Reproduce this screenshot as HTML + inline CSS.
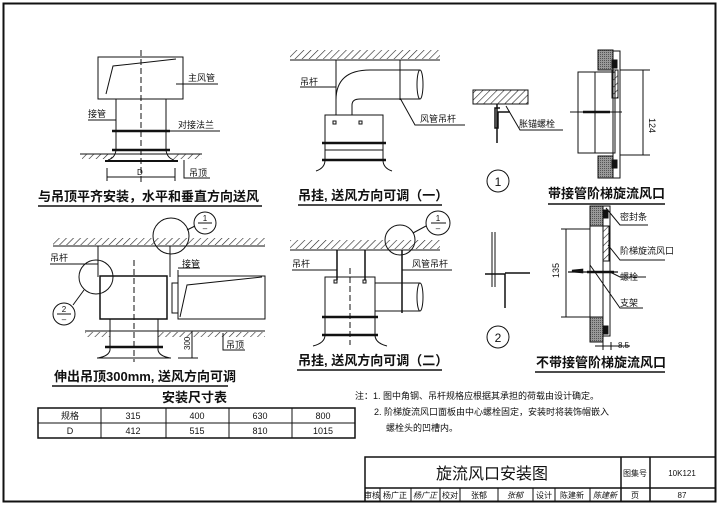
<!DOCTYPE html>
<html><head><meta charset="utf-8"><style>
html,body{margin:0;padding:0;background:#fff}
svg{display:block}
text{font-family:"Liberation Sans","Noto Sans CJK SC",sans-serif;fill:#111}
</style></head><body>
<svg width="720" height="506" viewBox="0 0 720 506" xmlns="http://www.w3.org/2000/svg">
<defs>
<pattern id="h" width="5" height="5" patternUnits="userSpaceOnUse" patternTransform="rotate(45)">
<line x1="0" y1="0" x2="0" y2="5" stroke="#222" stroke-width="1.2"/></pattern>
<pattern id="g" width="2" height="2" patternUnits="userSpaceOnUse"><rect width="2" height="2" fill="#999"/><rect width="1" height="1" fill="#555"/></pattern>
</defs>
<rect x="3.5" y="3.5" width="712" height="498" fill="none" stroke="#111" stroke-width="2"/>
<g stroke="#111" fill="none" stroke-width="1">
<!-- Fig 1 -->
<rect x="98" y="57" width="85" height="42"/>
<path d="M106 94 L113 66 L176 59"/>
<line x1="141" y1="50" x2="141" y2="182" stroke-dasharray="6,3"/>
<path d="M116 99 V150 Q115 158 108 160 M166 99 V150 Q167 158 174 160"/>
<line x1="112" y1="131" x2="170" y2="131" stroke-width="2.5"/>
<line x1="112" y1="150" x2="170" y2="150" stroke-width="2.5"/>
<rect x="82" y="154" width="30" height="5" fill="url(#h)" stroke="none"/>
<rect x="172" y="154" width="30" height="5" fill="url(#h)" stroke="none"/>
<line x1="80" y1="154" x2="202" y2="154"/><line x1="105" y1="161" x2="178" y2="161" stroke-width="2"/>
<path d="M107 168 V181 M175 168 V181 M107 177 H175"/>
<path d="M176 84 H218 M88 120 H116 M166 131 H220 M184 160 V178 H210"/>
<line x1="38" y1="206" x2="262" y2="206" stroke-width="1.5"/>
<!-- Fig 2 -->
<rect x="290" y="50" width="150" height="9" fill="url(#h)" stroke="none"/><line x1="290" y1="60" x2="440" y2="60"/>
<path d="M336 60 V115 M400 60 V100 M300 87 H336"/>
<path d="M336 115 V100 Q336 70 370 70 H420 M352 115 V105 Q352 99 360 99 H420"/>
<ellipse cx="420" cy="84.5" rx="3" ry="14.5"/>
<rect x="325" y="115" width="58" height="35"/>
<rect x="333" y="121" width="3" height="3"/><rect x="359" y="121" width="3" height="3"/>
<line x1="322" y1="143" x2="386" y2="143" stroke-width="2.5"/><line x1="322" y1="160" x2="386" y2="160" stroke-width="2.5"/>
<path d="M325 150 V160 Q325 168 316 171 M383 150 V160 Q383 168 392 171"/>
<path d="M400 98 L415 125 H465"/>
<line x1="298" y1="205" x2="442" y2="205" stroke-width="1.5"/>
<!-- detail 1 -->
<rect x="473" y="90" width="55" height="14" fill="url(#h)"/>
<path d="M497 104 V143 M500 108 H495 V128 H498 V112 H510" stroke-width="1.5"/>
<path d="M506 106 L520 130 H563"/>
<circle cx="498" cy="181" r="11"/>
<!-- right top -->
<rect x="598" y="50" width="15" height="20" fill="url(#g)"/><rect x="598" y="156" width="15" height="22" fill="url(#g)"/>
<rect x="613" y="51" width="7" height="127"/>
<rect x="612" y="60" width="5" height="8" fill="#111"/><rect x="612" y="160" width="5" height="8" fill="#111"/>
<rect x="612" y="70" width="6" height="28" fill="url(#h)"/>
<rect x="578" y="72" width="37" height="81"/><line x1="595" y1="72" x2="595" y2="153"/>
<line x1="570" y1="112" x2="622" y2="112"/><path d="M583 112 H610" stroke-width="2.5"/>
<path d="M620 70 H650 M620 155 H650 M643 70 V155"/>
<line x1="548" y1="204" x2="665" y2="204" stroke-width="1.5"/>
<!-- Fig 3 -->
<rect x="53" y="238" width="212" height="7" fill="url(#h)" stroke="none"/><line x1="53" y1="246" x2="265" y2="246"/>
<circle cx="171" cy="236" r="18"/><circle cx="205" cy="223" r="11"/><line x1="187" y1="230" x2="195" y2="226"/><line x1="198" y1="223" x2="212" y2="223"/>
<path d="M98 246 V277 M170 246 V277 M50 264 H98"/>
<rect x="100" y="276" width="67" height="43" stroke-width="1.5"/>
<line x1="134" y1="260" x2="134" y2="362" stroke-dasharray="6,3"/>
<rect x="172" y="283" width="6" height="30"/>
<rect x="178" y="276" width="87" height="43"/><path d="M180 317 L187 285 L262 277"/>
<path d="M178 270 V276 M178 268 H200"/>
<circle cx="96" cy="277" r="17"/><circle cx="64" cy="314" r="11"/><line x1="84" y1="290" x2="73" y2="305"/><line x1="57" y1="314" x2="71" y2="314"/>
<path d="M110 319 V350 Q109 356 98 358 M158 319 V350 Q159 356 170 358"/>
<rect x="85" y="332" width="25" height="5" fill="url(#h)" stroke="none"/><rect x="158" y="332" width="107" height="5" fill="url(#h)" stroke="none"/>
<line x1="85" y1="331" x2="265" y2="331"/>
<line x1="105" y1="347" x2="163" y2="347" stroke-width="2.5"/><line x1="97" y1="358" x2="171" y2="358"/>
<path d="M178 331 H198 M178 358 H198 M192 331 V358 M223 333 V350 H245"/>
<line x1="52" y1="386" x2="228" y2="386" stroke-width="1.5"/>
<!-- Fig 4 -->
<rect x="290" y="240" width="150" height="9" fill="url(#h)" stroke="none"/><line x1="290" y1="250" x2="440" y2="250"/>
<circle cx="400" cy="240" r="15"/><circle cx="438" cy="223" r="12"/><line x1="413" y1="233" x2="426" y2="226"/><line x1="431" y1="223" x2="446" y2="223"/>
<path d="M337 250 V280 M365 250 V280 M402 250 V313" stroke-width="1.5"/>
<path d="M292 270 H337 M402 270 H452"/>
<rect x="325" y="277" width="50" height="58"/>
<rect x="334" y="280" width="3" height="3"/><rect x="363" y="280" width="3" height="3"/>
<line x1="350" y1="268" x2="350" y2="345" stroke-dasharray="6,3"/>
<path d="M375 283 H420 M375 311 H420"/><ellipse cx="420" cy="297" rx="3" ry="14"/>
<line x1="322" y1="317" x2="378" y2="317" stroke-width="2.5"/><line x1="322" y1="335" x2="378" y2="335" stroke-width="2.5"/>
<path d="M325 335 Q325 343 313 346 M375 335 Q375 343 387 346"/>
<line x1="297" y1="370" x2="442" y2="370" stroke-width="1.5"/>
<!-- detail 2 -->
<path d="M492 232 V287 M495 232 V287" /><path d="M485 274 H505 V308 M505 273 H530" stroke-width="1.5"/>
<circle cx="498" cy="337" r="11"/>
<!-- right bottom -->
<rect x="590" y="206" width="13" height="20" fill="url(#g)"/><rect x="590" y="317" width="13" height="25" fill="url(#g)"/>
<rect x="603" y="206" width="7" height="130"/>
<rect x="603" y="210" width="5" height="8" fill="#111"/><rect x="603" y="326" width="5" height="8" fill="#111"/>
<rect x="603" y="226" width="6" height="35" fill="url(#h)"/>
<path d="M590 226 V317"/>
<path d="M568 272 H618" stroke-width="1.2"/><path d="M582 272 L572 271 L582 270 Z M587 272 H614" stroke-width="2.5"/>
<path d="M561 229 H590 M561 317 H590 M566 229 V317"/>
<path d="M606 208 L620 225 H648 M608 245 L620 260 H665 M610 272 L620 277 H646 M590 265 L620 308 H643"/>
<path d="M603 342 V350 M611 342 V350 M595 346 H630"/>
<line x1="535" y1="372" x2="665" y2="372" stroke-width="1.5"/>
<!-- table -->
<rect x="38" y="408" width="317" height="30" stroke-width="1.5"/>
<path d="M38 423 H355 M101 408 V438 M166 408 V438 M229 408 V438 M292 408 V438"/>
<!-- title block -->
<path d="M365 502 V457 H715 M365 488 H715 M621 457 V502 M650 457 V502" stroke-width="1.5"/>
<path d="M380 488 V502 M411 488 V502 M440 488 V502 M460 488 V502 M498 488 V502 M533 488 V502 M555 488 V502 M590 488 V502"/>
</g>
<g font-size="9">
<text x="188" y="81">主风管</text><text x="88" y="117">接管</text><text x="178" y="128">对接法兰</text><text x="189" y="176">吊顶</text>
<text x="137" y="175" font-size="8">D</text>
<text x="300" y="85">吊杆</text><text x="420" y="122">风管吊杆</text>
<text x="519" y="127">胀锚螺栓</text>
<text x="50" y="261">吊杆</text><text x="182" y="267">接管</text><text x="226" y="348">吊顶</text>
<text x="292" y="267">吊杆</text><text x="412" y="267">风管吊杆</text>
<text x="620" y="220">密封条</text><text x="620" y="254">阶梯旋流风口</text><text x="620" y="280">螺栓</text><text x="620" y="306">支架</text>
<text x="618" y="348" font-size="8">8.5</text>
</g>
<text x="190" y="350" font-size="8" transform="rotate(-90 190 350)">300</text>
<text x="649" y="118" font-size="9" transform="rotate(90 649 118)">124</text>
<text x="559" y="278" font-size="9" transform="rotate(-90 559 278)">135</text>
<g font-size="12" text-anchor="middle">
<text x="498" y="186">1</text><text x="498" y="342">2</text>
<text x="205" y="221" font-size="8">1</text><text x="205" y="231" font-size="8">–</text>
<text x="438" y="221" font-size="8">1</text><text x="438" y="231" font-size="8">–</text>
<text x="64" y="312" font-size="8">2</text><text x="64" y="322" font-size="8">–</text>
</g>
<g font-size="13" font-weight="bold">
<text x="38" y="201">与吊顶平齐安装，水平和垂直方向送风</text>
<text x="298" y="200">吊挂, 送风方向可调（一）</text>
<text x="548" y="198">带接管阶梯旋流风口</text>
<text x="54" y="381">伸出吊顶300mm, 送风方向可调</text>
<text x="298" y="365">吊挂, 送风方向可调（二）</text>
<text x="536" y="367">不带接管阶梯旋流风口</text>
<text x="162" y="402">安装尺寸表</text>
</g>
<g font-size="9" text-anchor="middle">
<text x="70" y="419">规格</text><text x="133" y="419">315</text><text x="197" y="419">400</text><text x="260" y="419">630</text><text x="323" y="419">800</text>
<text x="70" y="434">D</text><text x="133" y="434">412</text><text x="197" y="434">515</text><text x="260" y="434">810</text><text x="323" y="434">1015</text>
</g>
<g font-size="9">
<text x="355" y="399">注：1. 图中角钢、吊杆规格应根据其承担的荷载由设计确定。</text>
<text x="374" y="415">2. 阶梯旋流风口面板由中心螺栓固定，安装时将装饰帽嵌入</text>
<text x="386" y="431">螺栓头的凹槽内。</text>
</g>
<text x="492" y="479" font-size="16" text-anchor="middle">旋流风口安装图</text>
<g font-size="8" text-anchor="middle">
<text x="635" y="476">图集号</text><text x="682" y="476">10K121</text>
<text x="372" y="498">审核</text><text x="395" y="498">杨广正</text><text x="425" y="498" font-style="italic">杨广正</text>
<text x="450" y="498">校对</text><text x="479" y="498">张郁</text><text x="515" y="498" font-style="italic">张郁</text>
<text x="544" y="498">设计</text><text x="572" y="498">陈建新</text><text x="605" y="498" font-style="italic">陈建新</text>
<text x="635" y="498">页</text><text x="682" y="498">87</text>
</g>
</svg>
</body></html>
